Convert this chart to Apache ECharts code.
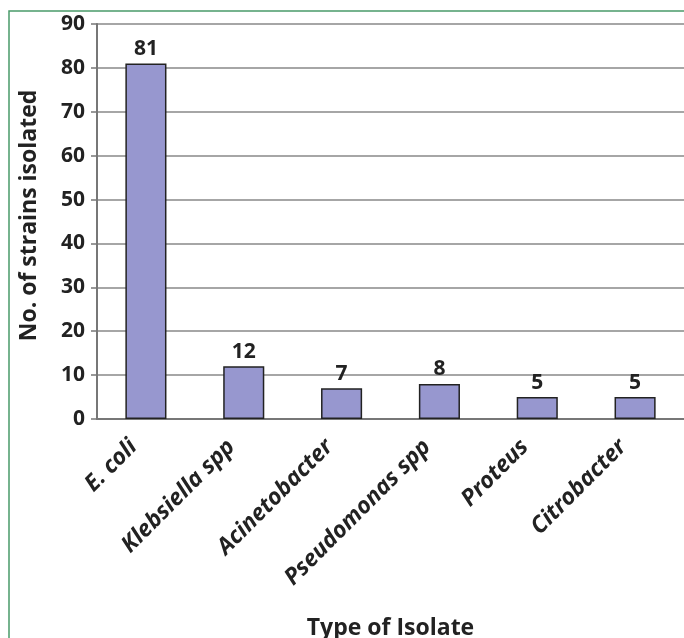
<!DOCTYPE html>
<html><head><meta charset="utf-8">
<script src="https://cdn.jsdelivr.net/npm/echarts@6/dist/echarts.min.js"></script>
<style>html,body{margin:0;padding:0;background:#fff}#c{width:684px;height:638px}</style>
</head><body><div id="c"></div>
<script>
const categories = ["E. coli", "Klebsiella spp", "Acinetobacter", "Pseudomonas spp", "Proteus", "Citrobacter"];
const values = [81, 12, 7, 8, 5, 5];
const yTicks = {min: 0, max: 90, interval: 10};
const chart = echarts.init(document.getElementById('c'));
const F = '"Open Sans", sans-serif';
chart.setOption({
  animation: false,
  backgroundColor: '#fff',
  graphic: [{type: 'rect', shape: {x: 9, y: 11, width: 720, height: 700}, style: {fill: 'none', stroke: '#4a9a6a', lineWidth: 1.5}, silent: true}],
  grid: {left: 97, right: 0, top: 24, bottom: 219, containLabel: false, outerBoundsMode: 'none'},
  xAxis: {
    type: 'category', data: categories,
    name: 'Type of Isolate', nameLocation: 'middle', nameGap: 198,
    nameTextStyle: {fontFamily: F, fontWeight: 'bold', fontSize: 23, color: '#222'},
    axisLine: {lineStyle: {color: '#777', width: 2}},
    axisTick: {show: false},
    axisLabel: {rotate: 45, interval: 0, fontFamily: F, fontStyle: 'italic', fontWeight: 'bold', fontSize: 23, color: '#222', margin: 12,
      formatter: v => v + '\u2002 '}
  },
  yAxis: {
    type: 'value', min: yTicks.min, max: yTicks.max, interval: yTicks.interval,
    name: 'No. of strains isolated', nameLocation: 'middle', nameGap: 56, nameRotate: 90,
    nameTextStyle: {fontFamily: F, fontWeight: 'bold', fontSize: 23, color: '#222', padding: [0, 0, 0, 12]},
    axisLine: {show: true, lineStyle: {color: '#777', width: 2}},
    axisTick: {show: true, length: 6, lineStyle: {color: '#777', width: 1.5}},
    axisLabel: {fontFamily: F, fontWeight: 'bold', fontSize: 21, color: '#222', margin: 12},
    splitLine: {lineStyle: {color: '#888', width: 1.5}}
  },
  series: [{
    type: 'bar', data: values, barWidth: '42%',
    itemStyle: {color: '#9797cf', borderColor: '#222', borderWidth: 1.5},
    label: {show: true, position: 'top', fontFamily: F, fontWeight: 'bold', fontSize: 21, color: '#222', distance: 4}
  }]
});
</script></body></html>
